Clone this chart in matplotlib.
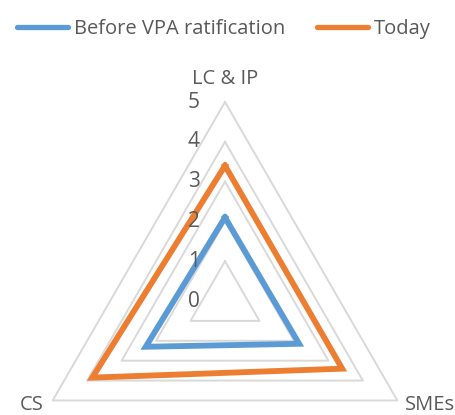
import numpy as np
import matplotlib
matplotlib.use("Agg")
import matplotlib.pyplot as plt

categories = ["LC & IP", "SMEs", "CS"]
before_vpa = [2.1, 2.15, 2.3]
today = [3.4, 3.4, 3.85]
series_names = ["Before VPA ratification", "Today"]
radial_ticks = [0, 1, 2, 3, 4, 5]

plt.rcParams['font.family'] = ['Open Sans', 'DejaVu Sans']
text_color = "#595959"
grid_color = "#D9D9D9"
blue = "#5B9BD5"
orange = "#ED7D31"

W, H = 456, 415
fig = plt.figure(figsize=(W / 100, H / 100), dpi=100)
cx, cy, R = 225, 301, 199
ax = fig.add_axes([(cx - R) / W, (H - cy - R) / H, 2 * R / W, 2 * R / H],
                  projection="polar")
ax.set_theta_offset(np.pi / 2)
ax.set_theta_direction(-1)
ax.set_ylim(0, 5)
ax.grid(False)
ax.spines["polar"].set_visible(False)
ax.set_xticks([])
ax.set_yticks([])
ax.patch.set_alpha(0)

n = len(categories)
angles = np.linspace(0, 2 * np.pi, n, endpoint=False)
closed = np.concatenate([angles, angles[:1]])

for lvl in radial_ticks[1:]:
    ax.plot(closed, [lvl] * (n + 1), color=grid_color, lw=1.4, zorder=1,
            clip_on=False)

for vals, col, name in [(before_vpa, blue, series_names[0]),
                        (today, orange, series_names[1])]:
    v = list(vals) + [vals[0]]
    ax.plot(closed, v, color=col, lw=4.2, zorder=3, label=name,
            solid_joinstyle="miter", clip_on=False)

for t in radial_ticks:
    ax.annotate(str(t), xy=(0, t), xytext=(-18, 0), textcoords="offset points",
                ha="right", va="center", fontsize=15, color=text_color,
                annotation_clip=False)

fig.text(225 / W, 1 - 79 / H, categories[0], ha="center", va="center",
         fontsize=14.5, color=text_color)
fig.text(430 / W, 1 - 405 / H, categories[1], ha="center", va="center",
         fontsize=14.5, color=text_color)
fig.text(32 / W, 1 - 405 / H, categories[2], ha="center", va="center",
         fontsize=14.5, color=text_color)

leg = fig.legend(loc="center", bbox_to_anchor=(224 / W, 1 - 29 / H), ncol=2,
                 frameon=False, fontsize=14.5, handlelength=2.5,
                 handletextpad=0.3, columnspacing=1.6, labelcolor=text_color)
for h in leg.get_lines():
    h.set_linewidth(3.8)
    h.set_solid_capstyle("round")

fig.savefig("out.png", dpi=100)
